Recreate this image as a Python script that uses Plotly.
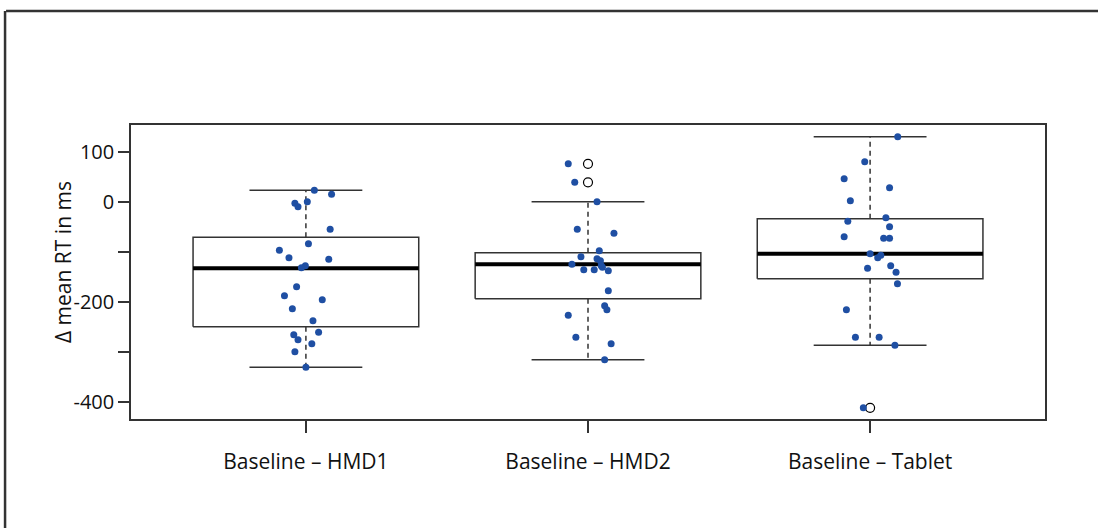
import plotly.graph_objects as go

# Comparison labels
categories = ["Baseline – HMD1", "Baseline – HMD2", "Baseline – Tablet"]

# Per-participant differences (ms) and their horizontal jitter
hmd1_values = [24, 16, -2, -9, 1, -54, -83, -96, -111, -114, -127, -131, -169,
               -187, -195, -213, -237, -260, -265, -275, -283, -299, -330]
hmd1_jitter = [0.030, 0.091, -0.039, -0.028, 0.005, 0.086, 0.009, -0.094, -0.060,
               0.081, -0.002, -0.016, -0.033, -0.076, 0.058, -0.048, 0.025, 0.045,
               -0.043, -0.028, 0.021, -0.039, 0.0]

hmd2_values = [77, 40, 1, -54, -62, -97, -109, -113, -117, -124, -127, -130, -135,
               -135, -137, -177, -207, -215, -226, -270, -283, -315]
hmd2_jitter = [-0.070, -0.047, 0.032, -0.038, 0.092, 0.040, -0.025, 0.032, 0.044,
               -0.057, 0.047, 0.051, -0.015, 0.022, 0.072, 0.072, 0.059, 0.067,
               -0.070, -0.043, 0.082, 0.059]

tablet_values = [131, 81, 47, 29, 3, -31, -38, -49, -69, -72, -72, -103, -106, -111,
                 -127, -132, -140, -163, -215, -270, -270, -286, -411]
tablet_jitter = [0.098, -0.019, -0.092, 0.069, -0.070, 0.056, -0.079, 0.069, -0.092,
                 0.048, 0.069, 0.0, 0.038, 0.027, 0.073, -0.009, 0.092, 0.097,
                 -0.084, -0.052, 0.032, 0.088, -0.024]

# Box statistics per comparison
whisker_low = [-330, -315, -286]
q1 = [-249, -193, -153]
median = [-132, -124, -103]
q3 = [-70, -101, -33]
whisker_high = [24, 1, 131]

# Outliers: (group index, value)
outlier_group = [2, 2, 3]
outlier_value = [77, 40, -411]

y_tickvals = [100, 0, -100, -200, -300, -400]
y_ticktext = ["100", "0", "", "-200", "", "-400"]

BOX_HALF = 0.4
STAPLE_HALF = 0.2
DARK = "#333333"
POINT_BLUE = "#1f4fa3"

fig = go.Figure()

# Box outlines, medians, whiskers and staples built from the statistics
box_x, box_y = [], []
med_x, med_y = [], []
wh_x, wh_y = [], []
st_x, st_y = [], []
for i in range(len(categories)):
    c = i + 1
    box_x += [c - BOX_HALF, c + BOX_HALF, c + BOX_HALF, c - BOX_HALF, c - BOX_HALF, None]
    box_y += [q1[i], q1[i], q3[i], q3[i], q1[i], None]
    med_x += [c - BOX_HALF, c + BOX_HALF, None]
    med_y += [median[i], median[i], None]
    wh_x += [c, c, None, c, c, None]
    wh_y += [q3[i], whisker_high[i], None, q1[i], whisker_low[i], None]
    st_x += [c - STAPLE_HALF, c + STAPLE_HALF, None, c - STAPLE_HALF, c + STAPLE_HALF, None]
    st_y += [whisker_high[i], whisker_high[i], None, whisker_low[i], whisker_low[i], None]

fig.add_trace(go.Scatter(x=wh_x, y=wh_y, mode="lines",
                         line=dict(color=DARK, width=1.5, dash="5px,4px"),
                         hoverinfo="skip", showlegend=False))
fig.add_trace(go.Scatter(x=st_x, y=st_y, mode="lines",
                         line=dict(color=DARK, width=1.5),
                         hoverinfo="skip", showlegend=False))
fig.add_trace(go.Scatter(x=box_x, y=box_y, mode="lines",
                         line=dict(color=DARK, width=1.5),
                         hoverinfo="skip", showlegend=False))
fig.add_trace(go.Scatter(x=med_x, y=med_y, mode="lines",
                         line=dict(color="black", width=4),
                         hoverinfo="skip", showlegend=False))

# Outlier circles
fig.add_trace(go.Scatter(x=outlier_group, y=outlier_value, mode="markers",
                         marker=dict(symbol="circle-open", size=9,
                                     color="black", line=dict(width=1.2)),
                         showlegend=False))

# Jittered individual points
groups = [(hmd1_values, hmd1_jitter), (hmd2_values, hmd2_jitter),
          (tablet_values, tablet_jitter)]
for i, (vals, jit) in enumerate(groups):
    fig.add_trace(go.Scatter(x=[i + 1 + j for j in jit], y=vals, mode="markers",
                             marker=dict(color=POINT_BLUE, size=7),
                             showlegend=False))

# Outer frame (top and left edges)
fig.add_shape(type="line", xref="paper", yref="paper",
              x0=-0.1367, x1=1.06, y0=1.3878, y1=1.3878,
              line=dict(color=DARK, width=2.5))
fig.add_shape(type="line", xref="paper", yref="paper",
              x0=-0.1378, x1=-0.1378, y0=1.3878, y1=-0.38,
              line=dict(color=DARK, width=2.5))

fig.add_annotation(text="Δ mean RT in ms", textangle=-90,
                   xref="paper", yref="paper", x=-0.0919, y=0.534,
                   showarrow=False, font=dict(family="Open Sans", size=21, color="#111"))

fig.update_layout(
    width=1098, height=528,
    margin=dict(l=131, r=53, t=125, b=109),
    paper_bgcolor="white", plot_bgcolor="white",
    font=dict(family="Open Sans", size=20, color="#111"),
    xaxis=dict(range=[0.38, 3.62], tickvals=[1, 2, 3], ticktext=categories,
               showgrid=False, zeroline=False, showline=True, mirror=True,
               linecolor=DARK, linewidth=1.5, ticks="outside", ticklen=12,
               tickcolor=DARK, tickwidth=1.5, ticklabelstandoff=11,
               tickfont=dict(family="Open Sans", size=21, color="#111")),
    yaxis=dict(range=[-433.4, 154.6], tickvals=y_tickvals, ticktext=y_ticktext,
               showgrid=False, zeroline=False, showline=True, mirror=True,
               linecolor=DARK, linewidth=1.5, ticks="outside", ticklen=11,
               tickcolor=DARK, tickwidth=1.5,
               tickfont=dict(family="Open Sans", size=20, color="#111")),
)

fig.write_html("out.html")
